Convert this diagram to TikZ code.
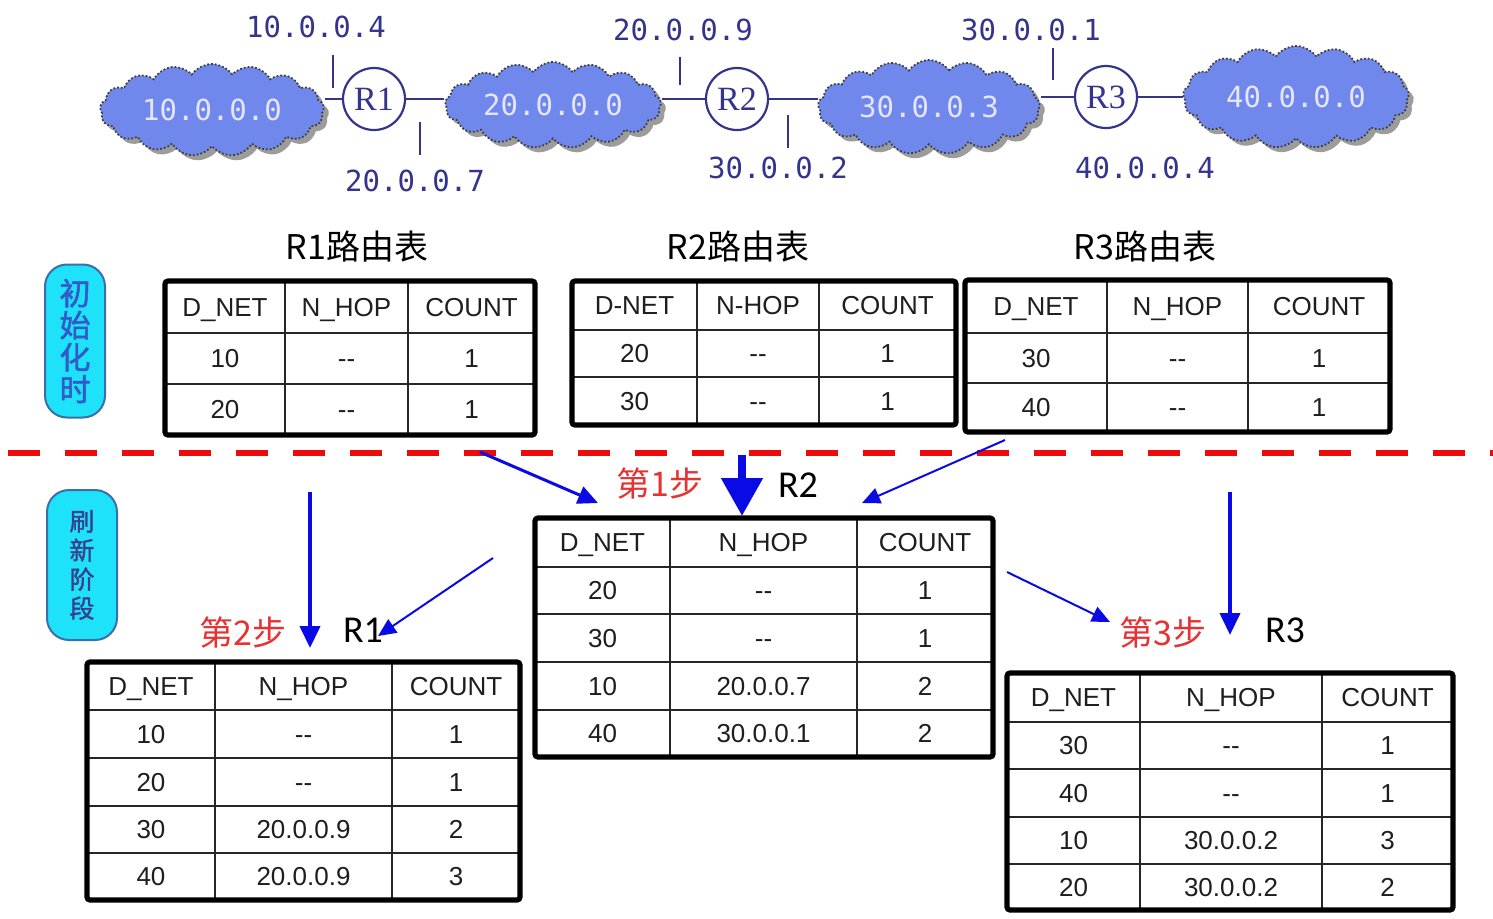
\documentclass[tikz,border=0pt]{standalone}
\usepackage{fontspec}
\setmainfont{Liberation Sans}
\newfontfamily\cjk{Noto Sans CJK SC}
\newfontfamily\cjkb[FakeBold=1.6]{Noto Sans CJK SC}
\newfontfamily\ipfont{DejaVu Sans Mono}
\newfontfamily\rfont{Liberation Serif}
\newfontfamily\lblfont{Carlito}
\usetikzlibrary{shapes.symbols,shadows,arrows.meta}
\definecolor{cloudblue}{RGB}{112,136,236}
\definecolor{navy}{RGB}{52,52,140}
\definecolor{arrblue}{RGB}{10,10,230}
\definecolor{dashred}{RGB}{236,10,10}
\definecolor{stepred}{RGB}{230,50,50}
\definecolor{boxcyan}{RGB}{30,226,250}
\definecolor{boxedge}{RGB}{60,110,170}
\definecolor{tabtext}{RGB}{30,30,30}
\definecolor{phasetxt}{RGB}{50,90,200}
\definecolor{phasetxtb}{RGB}{55,65,140}
\newcommand\dsh{-{}-}
\tikzset{
  cloudnet/.style={cloud, cloud puffs=17, cloud puff arc=110, cloud ignores aspect,
    fill=cloudblue, draw=black!75, densely dotted, line width=0.9pt,
    drop shadow={shadow xshift=2.5pt, shadow yshift=-2.5pt, fill=black!55, opacity=.7},
    text=white!90!blue, font=\ipfont\fontsize{14.5}{15}\selectfont, inner sep=0pt},
  router/.style={circle, draw=navy, line width=1.1pt, fill=white, minimum size=31pt,
    inner sep=0pt, text=navy, font=\rfont\fontsize{17}{18}\selectfont},
  ip/.style={text=navy, font=\ipfont\fontsize{14.5}{15}\selectfont, inner sep=0pt},
  tick/.style={draw=navy, line width=1.1pt},
  link/.style={draw=navy, line width=1.1pt},
  title/.style={font=\cjk\fontsize{17}{18}\selectfont, inner sep=0pt},
  cell/.style={font=\fontsize{13}{14}\selectfont, text=tabtext, inner sep=0pt,
    text height=9.3pt, text depth=0pt},
  inner/.style={line width=1.3pt, draw=black!85},
  outer/.style={line width=2.6pt, draw=black, rounded corners=1.5pt},
  phase/.style={draw=boxedge, line width=1pt, fill=boxcyan, rounded corners=11pt,
    align=center, inner sep=0pt},
  steplbl/.style={text=stepred, font=\cjk\fontsize{17}{18}\selectfont, inner sep=0pt},
  rlbl/.style={font=\lblfont\fontsize{19}{20}\selectfont, inner sep=0pt},
  flow/.style={draw=arrblue, line width=1.5pt, -{Triangle[length=10pt,width=9pt]}},
  thinflow/.style={draw=arrblue, line width=1pt, -{Triangle[length=9pt,width=8pt]}},
  bigflow/.style={draw=arrblue, line width=4pt, -{Triangle[length=19pt,width=20pt]}},
  downflow/.style={draw=arrblue, line width=2pt, -{Triangle[length=11pt,width=10pt]}},
  divider/.style={draw=dashred, line width=3pt, dash pattern=on 16pt off 12.5pt}
}
% routing table: #1 name, #2-#5 column x, #6 top y, #7 bottom y, #8 rows
\newcommand{\rtab}[8]{%
  \foreach \yt/\yb/\ca/\cb/\cc [count=\i] in {#8}{%
    \node[cell] (#1-\i-1) at ({(#2+#3)/2},{(\yt+\yb)/2}) {\ca};
    \node[cell] (#1-\i-2) at ({(#3+#4)/2},{(\yt+\yb)/2}) {\cb};
    \node[cell] (#1-\i-3) at ({(#4+#5)/2},{(\yt+\yb)/2}) {\cc};
    \draw[inner] (#2,\yb) -- (#5,\yb);
  }
  \draw[inner] (#3,#6) -- (#3,#7);
  \draw[inner] (#4,#6) -- (#4,#7);
  \draw[outer] (#2,#6) rectangle (#5,#7);
}
\begin{document}
\begin{tikzpicture}[x=0.5pt,y=-0.5pt]
\fill[white] (0,0) rectangle (1493,918);
\useasboundingbox (0,0) rectangle (1493,918);

% ---------- network ----------
\node[cloudnet, minimum width=112pt, minimum height=46pt] (c1) at (212,110) {10.0.0.0};
\node[cloudnet, minimum width=108pt, minimum height=43pt] (c2) at (553,105) {20.0.0.0};
\node[cloudnet, minimum width=111pt, minimum height=47pt] (c3) at (929,107) {30.0.0.3};
\node[cloudnet, minimum width=113pt, minimum height=51pt] (c4) at (1296,97) {40.0.0.0};

\node[router] (r1) at (374,99) {R1};
\node[router] (r2) at (737,99) {R2};
\node[router] (r3) at (1106,97) {R3};

\draw[link] (c1.east |- r1.west) -- (r1.west);
\draw[link] (r1.east) -- (c2.west |- r1.east);
\draw[link] (c2.east |- r2.west) -- (r2.west);
\draw[link] (r2.east) -- (c3.west |- r2.east);
\draw[link] (c3.east |- r3.west) -- (r3.west);
\draw[link] (r3.east) -- (c4.west |- r3.east);

\node[ip] (l1) at (316,27) {10.0.0.4};
\node[ip] (l2) at (415,181) {20.0.0.7};
\node[ip] (l3) at (683,30) {20.0.0.9};
\node[ip] (l4) at (778,168) {30.0.0.2};
\node[ip] (l5) at (1031,30) {30.0.0.1};
\node[ip] (l6) at (1145,168) {40.0.0.4};

\draw[tick] (333,55) -- (333,88);
\draw[tick] (420,122) -- (420,155);
\draw[tick] (680,57) -- (680,85);
\draw[tick] (788,115) -- (788,148);
\draw[tick] (1053,48) -- (1053,80);

% ---------- titles ----------
\node[title] (tt1) at (357,247) {R1路由表};
\node[title] (tt2) at (738,247) {R2路由表};
\node[title] (tt3) at (1145,247) {R3路由表};

% ---------- phase boxes ----------
\node[phase, minimum width=30pt, minimum height=76.5pt, text=phasetxt,
  font=\cjkb\fontsize{15.5}{16}\selectfont] (p1) at (75,341) {初\\始\\化\\时};
\node[phase, minimum width=35pt, minimum height=75pt, text=phasetxtb,
  font=\cjkb\fontsize{12.5}{14.5}\selectfont] (p2) at (82,565) {刷\\新\\阶\\段};

% ---------- initial tables ----------
\rtab{ta}{165}{285}{408}{535}{281}{435}{281/333/D\_NET/N\_HOP/COUNT, 333/384/10/\dsh/1, 384/435/20/\dsh/1}
\rtab{tb}{572}{697}{819}{956}{281}{425}{281/330/D-NET/N-HOP/COUNT, 330/377/20/\dsh/1, 377/425/30/\dsh/1}
\rtab{tc}{965}{1107}{1248}{1390}{280}{432}{280/333/D\_NET/N\_HOP/COUNT, 333/383/30/\dsh/1, 383/432/40/\dsh/1}

% ---------- divider ----------
\coordinate (dl) at (8,453);
\coordinate (dr) at (1493,453);
\draw[divider] (dl) -- (dr);

% ---------- refresh tables ----------
\rtab{td}{535}{670}{857}{993}{518}{757}{518/567/D\_NET/N\_HOP/COUNT, 567/614/20/\dsh/1, 614/662/30/\dsh/1, 662/710/10/20.0.0.7/2, 710/757/40/30.0.0.1/2}
\rtab{te}{87}{215}{392}{520}{662}{900}{662/710/D\_NET/N\_HOP/COUNT, 710/758/10/\dsh/1, 758/806/20/\dsh/1, 806/853/30/20.0.0.9/2, 853/900/40/20.0.0.9/3}
\rtab{tf}{1007}{1140}{1322}{1453}{673}{910}{673/722/D\_NET/N\_HOP/COUNT, 722/769/30/\dsh/1, 769/817/40/\dsh/1, 817/864/10/30.0.0.2/3, 864/910/20/30.0.0.2/2}

% ---------- step labels ----------
\node[steplbl] (s1) at (660,483) {第1步};
\node[rlbl] (n2) at (798,485) {R2};
\node[steplbl] (s2) at (243,632) {第2步};
\node[rlbl] (n1) at (363,630) {R1};
\node[steplbl] (s3) at (1163,632) {第3步};
\node[rlbl] (n3) at (1285,630) {R3};

% ---------- arrows ----------
\coordinate (a1s) at (480,452);  \coordinate (a1e) at (598,503);
\coordinate (a2s) at (742,455);  \coordinate (a2e) at (742,516);
\coordinate (a3s) at (1005,440); \coordinate (a3e) at (862,503);
\coordinate (a4s) at (310,492);  \coordinate (a4e) at (310,648);
\coordinate (a5s) at (493,558);  \coordinate (a5e) at (378,636);
\coordinate (a6s) at (1007,572); \coordinate (a6e) at (1110,622);
\coordinate (a7s) at (1230,492); \coordinate (a7e) at (1230,635);
\draw[flow] (a1s) -- (a1e);
\draw[bigflow] (a2s) -- (a2e);
\draw[thinflow] (a3s) -- (a3e);
\draw[downflow] (a4s) -- (a4e);
\draw[thinflow] (a5s) -- (a5e);
\draw[thinflow] (a6s) -- (a6e);
\draw[downflow] (a7s) -- (a7e);
\end{tikzpicture}
\end{document}
